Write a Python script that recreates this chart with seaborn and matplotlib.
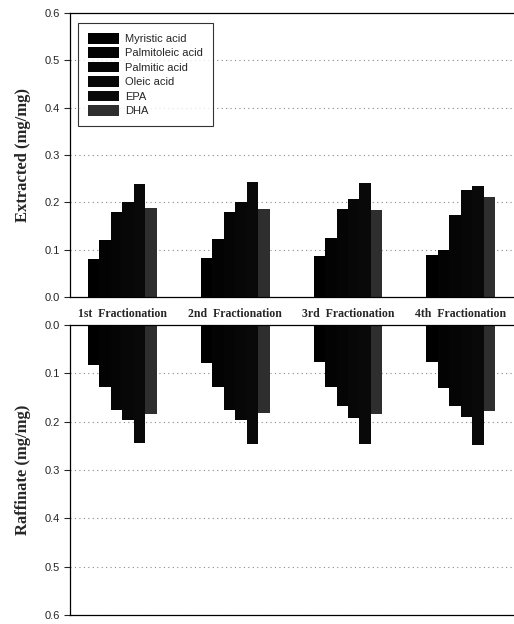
import matplotlib
matplotlib.use('Agg')
import matplotlib.pyplot as plt
import pandas as pd
import seaborn as sns

fractions = ['1st  Fractionation', '2nd  Fractionation', '3rd  Fractionation', '4th  Fractionation']
acids = ['Myristic acid', 'Palmitoleic acid', 'Palmitic acid', 'Oleic acid', 'EPA', 'DHA']

# rows = acids, columns = fractionation steps
extracted = [
    [0.080, 0.082, 0.086, 0.089],
    [0.120, 0.123, 0.125, 0.100],
    [0.180, 0.180, 0.187, 0.173],
    [0.200, 0.200, 0.207, 0.226],
    [0.238, 0.243, 0.242, 0.235],
    [0.189, 0.185, 0.184, 0.212],
]
raffinate = [
    [0.083, 0.079, 0.077, 0.076],
    [0.128, 0.128, 0.128, 0.131],
    [0.176, 0.175, 0.167, 0.167],
    [0.197, 0.197, 0.192, 0.190],
    [0.245, 0.247, 0.247, 0.248],
    [0.185, 0.181, 0.183, 0.178],
]

colors = ['#000000', '#030303', '#050505', '#070707', '#090909', '#2e2e2e']


def to_long(values):
    rows = []
    for acid, vals in zip(acids, values):
        for frac, v in zip(fractions, vals):
            rows.append({'fraction': frac, 'acid': acid, 'value': v})
    return pd.DataFrame(rows)


sns.set_style('white')
plt.rcParams['font.family'] = ['Liberation Sans', 'DejaVu Sans']

fig = plt.figure(figsize=(5.14, 6.24), dpi=100)
ax_top = fig.add_axes([0.136, 0.524, 0.864, 0.455])
ax_bot = fig.add_axes([0.136, 0.0144, 0.864, 0.4646])

for ax, values in [(ax_top, extracted), (ax_bot, raffinate)]:
    sns.barplot(data=to_long(values), x='fraction', y='value', hue='acid',
                palette=colors, width=0.61, saturation=1, linewidth=0,
                ax=ax, legend=(ax is ax_top))
    ax.set_ylim(0, 0.6)
    ax.set_xlim(-0.463, 3.47)
    ax.set_yticks([0.0, 0.1, 0.2, 0.3, 0.4, 0.5, 0.6])
    ax.set_yticklabels(['0.0', '0.1', '0.2', '0.3', '0.4', '0.5', '0.6'], fontsize=8)
    ax.yaxis.grid(True, linestyle=(0, (1, 3)), color='#888888', linewidth=0.8)
    ax.set_axisbelow(True)
    ax.tick_params(axis='y', direction='out', length=4, width=0.8, left=True, pad=3)
    ax.set_xlabel('')
    for s in ['left', 'top', 'bottom']:
        ax.spines[s].set_color('black')
        ax.spines[s].set_linewidth(0.9)
    ax.spines['right'].set_visible(False)

ax_top.tick_params(axis='x', length=0, pad=8)
ax_top.set_xticks(range(4))
ax_top.set_xticklabels(fractions, fontsize=8.5, fontweight='bold', family='Liberation Serif')
ax_top.set_ylabel('Extracted (mg/mg)', fontsize=12, fontweight='bold',
                  family='Liberation Serif', labelpad=10)

ax_bot.invert_yaxis()
ax_bot.set_xticks([])
ax_bot.set_ylabel('Raffinate (mg/mg)', fontsize=12, fontweight='bold',
                  family='Liberation Serif', labelpad=10)

leg = ax_top.legend(loc='upper left', bbox_to_anchor=(0.005, 0.985), fontsize=8, frameon=True,
                    fancybox=False, edgecolor='black', handlelength=2.8, handleheight=1.1,
                    labelspacing=0.3, borderpad=0.9, handletextpad=0.6)
leg.get_frame().set_linewidth(0.8)

fig.savefig('out.png', dpi=100)
